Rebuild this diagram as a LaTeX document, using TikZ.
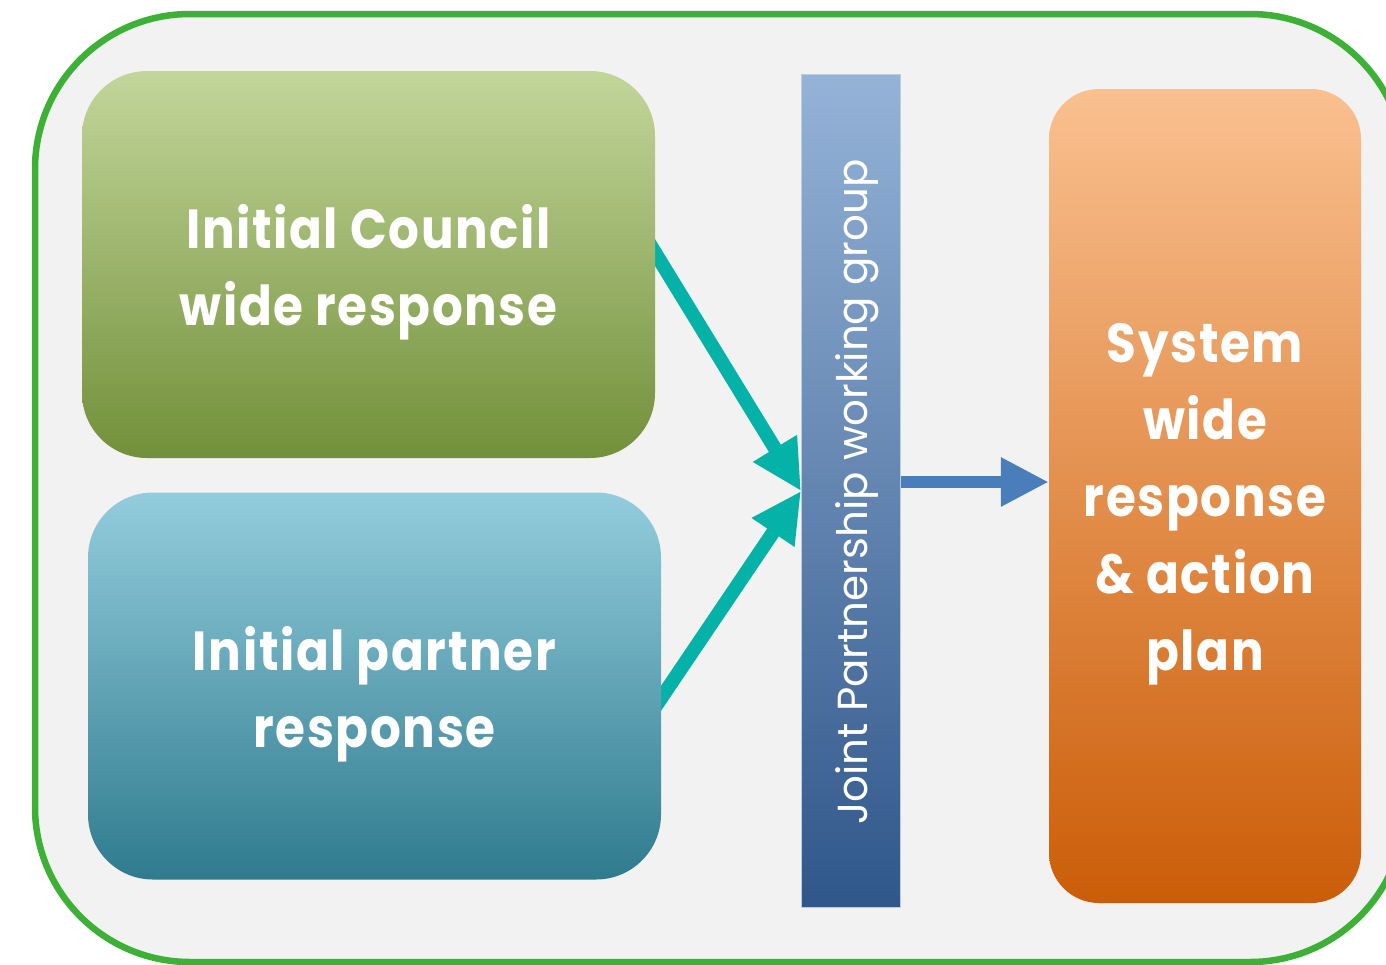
\documentclass[tikz,border=0pt]{standalone}
\usepackage{fontspec}
\setmainfont{Poppins}
\newfontfamily\boxfont[FakeStretch=0.88,LetterSpace=3]{Poppins}
\usetikzlibrary{arrows.meta}
\definecolor{frame}{HTML}{3DB036}
\definecolor{panel}{HTML}{F2F2F2}
\definecolor{teal}{HTML}{05B2A8}
\definecolor{barrow}{HTML}{4A7EBB}
\definecolor{c3d69b}{HTML}{C3D69B}
\definecolor{9bbb59}{HTML}{9BBB59}
\definecolor{71903a}{HTML}{72903A}
\definecolor{93cddd}{HTML}{93CDDD}
\definecolor{4bacc6}{HTML}{4BACC6}
\definecolor{2f7b8e}{HTML}{2F7B8E}
\definecolor{fac090}{HTML}{FAC090}
\definecolor{f79646}{HTML}{F79646}
\definecolor{cb5d08}{HTML}{CB5D08}
\definecolor{95b3d7}{HTML}{95B3D7}
\definecolor{5885c0}{HTML}{5885C0}
\definecolor{30578a}{HTML}{30578A}
\definecolor{b9cde5}{HTML}{B9CDE5}
\tikzset{
  boxtext/.style={text=white, align=center, inner sep=0pt, yshift=-8pt,
    font=\boxfont\bfseries\fontsize{55}{77}\selectfont},
  box/.style={rounded corners=65pt, minimum width=573pt, minimum height=387pt, inner sep=0pt},
  greenbox/.style={box, top color=c3d69b, middle color=9bbb59, bottom color=71903a},
  bluebox/.style={box, top color=93cddd, middle color=4bacc6, bottom color=2f7b8e},
  orangebox/.style={box, rounded corners=50pt, minimum width=312pt, minimum height=814pt,
    top color=fac090, middle color=f79646, bottom color=cb5d08},
  barbox/.style={minimum width=99pt, minimum height=833pt, inner sep=0pt,
    top color=95b3d7, middle color=5885c0, bottom color=30578a, draw=b9cde5, line width=1pt},
  tealarrow/.style={draw=teal, line width=14pt, -{Triangle[length=50pt,width=48pt]}},
  bluearrow/.style={draw=barrow, line width=12pt, -{Triangle[length=48pt,width=46pt]}}
}
\begin{document}
\begin{tikzpicture}[x=1pt,y=-1pt]
\useasboundingbox (0,0) rectangle (1386,964);
\clip (0,0) rectangle (1386,964);
\draw[draw=frame, fill=panel, line width=6.5pt, rounded corners=155pt] (35,14) rectangle (1405,962);
% nodes
\node[barbox] (bar) at (850.5,490.5) {};
\node[rotate=90, text=white, font=\fontsize{42}{42}\selectfont] (bartext) at (857,492) {Joint Partnership working group};
\coordinate (tip) at (801,491);
\coordinate (gout) at (640,228);
\coordinate (bout) at (645,722);
\draw[tealarrow] (gout) -- (tip);
\draw[tealarrow] (bout) -- (tip);
\node[greenbox, label={[boxtext]center:Initial Council\\wide response}] (council) at (368.5,264.5) {};
\node[bluebox, label={[boxtext]center:Initial partner\\response}] (partner) at (374.5,686) {};
\node[orangebox, label={[boxtext]center:System\\wide\\response\\\& action\\plan}] (system) at (1205,496) {};
\draw[bluearrow] (bar.east |- 0,482) -- (system.west |- 0,482);
\end{tikzpicture}
\end{document}
